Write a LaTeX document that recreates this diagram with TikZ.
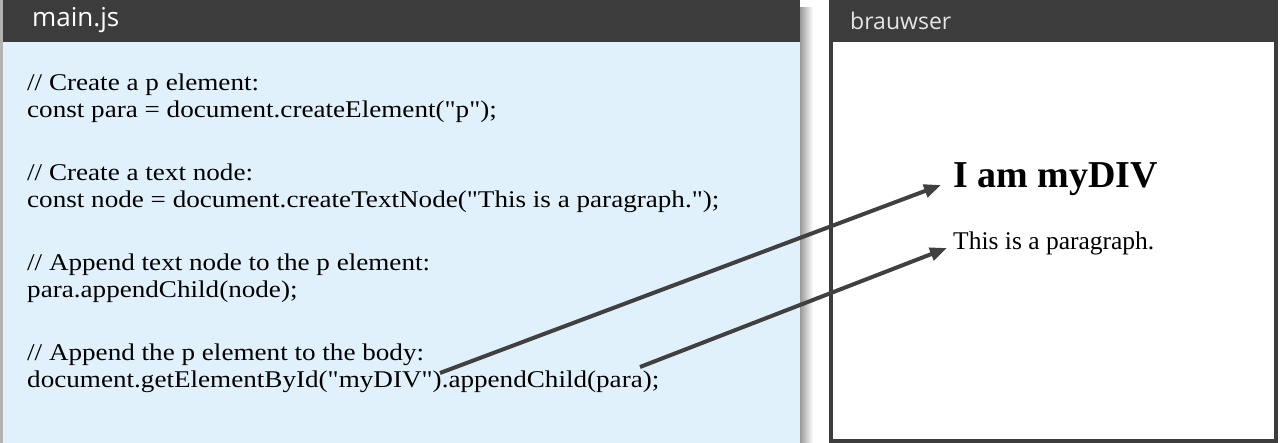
\documentclass[tikz,border=0pt]{standalone}
\usepackage{fontspec}
\setmainfont{Liberation Serif}
\newfontfamily\codefont[FakeStretch=1.13]{Liberation Serif}
\newfontfamily\headfont{Open Sans}
\usetikzlibrary{arrows.meta, positioning}

\definecolor{barcolor}{HTML}{3C3C3C}
\definecolor{codebg}{HTML}{E1F1FC}
\definecolor{arrowgray}{HTML}{404040}

\newcommand{\dq}{\symbol{34}}

\tikzset{
  headtext/.style={text=white, font=\headfont\fontsize{26}{30}\selectfont, inner sep=0pt},
  codeline/.style={anchor=base west, inner sep=0pt, font=\codefont\fontsize{24}{28}\selectfont},
  pointer/.style={arrowgray, line width=4pt, -{Triangle[length=17pt, width=13pt]}}
}

\begin{document}
\begin{tikzpicture}[x=1pt, y=-1pt]
        \useasboundingbox (0,0) rectangle (1280,443);

        % Left panel with shadow
        \shade[left color=black!40, right color=white] (800,8) rectangle (813,443);
        \fill[black!30] (0,0) rectangle (4,443);
        \fill[codebg] (3,42) rectangle (800,443);
        \fill[barcolor] (3,0) rectangle (800,42);
        \node[headtext, anchor=west] (mainjs) at (32,20) {main.js};

        % Right panel (browser)
        \draw[barcolor, line width=4pt] (831,2) rectangle (1276,441);
        \fill[barcolor] (829,0) rectangle (1278,42);
        \node[headtext, anchor=west, text=white!90!black, font=\headfont\fontsize{23}{27}\selectfont] (browser) at (850,21) {brauwser};

        % Code lines
        \node[codeline] (c1) at (27,91) {// Create a p element:};
        \node[codeline] (c2) at (27,118) {const para = document.createElement(\dq p\dq);};
        \node[codeline] (c3) at (27,181) {// Create a text node:};
        \node[codeline] (c4) at (27,208) {const node = document.createTextNode(\dq This is a paragraph.\dq);};
        \node[codeline] (c5) at (27,271) {// Append text node to the p element:};
        \node[codeline] (c6) at (27,298) {para.appendChild(node);};
        \node[codeline] (c7) at (27,361) {// Append the p element to the body:};
        \node[codeline] (c8) at (27,388) {document.getElementById(\dq myDIV\dq).appendChild(para);};

        % Rendered result
        \node[anchor=base west, inner sep=0pt, font=\bfseries\fontsize{38}{44}\selectfont] (mydiv) at (953,188) {I am myDIV};
        \node[anchor=base west, inner sep=0pt, font=\fontsize{25.5}{30}\selectfont] (para) at (953,250) {This is a paragraph.};

        % Pointers
        \coordinate (divsrc) at (440,373);
        \coordinate (parasrc) at (640,367);
        \draw[pointer] (divsrc) -- ([xshift=-12pt, yshift=3pt]mydiv.base west);
        \draw[pointer] (parasrc) -- ([xshift=-6pt, yshift=2pt]para.base west);
\end{tikzpicture}
\end{document}
